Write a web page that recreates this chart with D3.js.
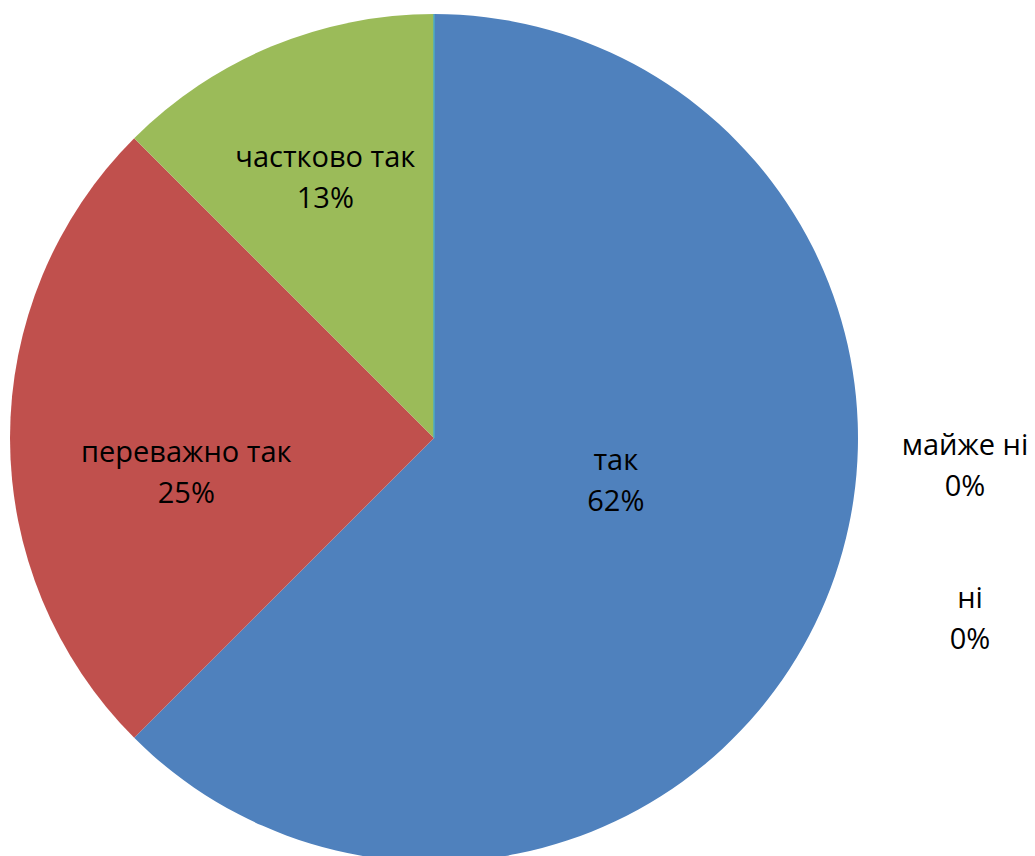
<!DOCTYPE html>
<html>
<head>
<meta charset="utf-8">
<script src="https://cdn.jsdelivr.net/npm/d3@7"></script>
<style>
  html, body { margin: 0; padding: 0; background: #fff; }
  svg { display: block; }
</style>
</head>
<body>
<svg id="chart" width="1035" height="856"></svg>
<script>
// ---- data ----
const categories = ["так", "переважно так", "частково так", "майже ні", "ні"];
const values = [62.5, 25, 12.5, 0, 0];
const percentLabels = ["62%", "25%", "13%", "0%", "0%"];
const colors = ["#4F81BD", "#C0504D", "#9BBB59", "#8064A2", "#4BACC6"];

// ---- layout ----
const W = 1035, H = 856;
const cx = 434, cy = 438, R = 424;
// label placement (polar: angle in degrees clockwise from top, radius as fraction of R)
const labelPolar = [
  { a: 103, r: 0.44 },
  { a: 262, r: 0.59 },
  { a: 337.4, r: 0.667 },
  { a: 93, r: 1.254 },
  { a: 108.6, r: 1.334 }
];
const fontSize = 29;
const lineGap = 41;

const svg = d3.select("#chart");
const g = svg.append("g").attr("transform", `translate(${cx},${cy})`);

const pie = d3.pie().sort(null).value(d => d.value).startAngle(0).endAngle(2 * Math.PI);
const data = categories.map((c, i) => ({ name: c, value: values[i], label: percentLabels[i], color: colors[i] }));
const arcs = pie(data);
const arc = d3.arc().innerRadius(0).outerRadius(R);

g.selectAll("path.slice")
  .data(arcs)
  .join("path")
  .attr("class", "slice")
  .attr("d", arc)
  .attr("fill", d => d.data.color);

// zero-width slices show as a thin edge line
g.selectAll("line.zero")
  .data(arcs.filter(d => d.data.value === 0).slice(-1))
  .join("line")
  .attr("class", "zero")
  .attr("x1", 0).attr("y1", 0)
  .attr("x2", d => R * Math.sin(d.startAngle))
  .attr("y2", d => -R * Math.cos(d.startAngle))
  .attr("stroke", d => d.data.color)
  .attr("stroke-width", 1.5);

const labels = g.selectAll("g.lbl")
  .data(arcs)
  .join("g")
  .attr("class", "lbl")
  .attr("transform", (d, i) => {
    const p = labelPolar[i];
    const a = p.a * Math.PI / 180;
    return `translate(${p.r * R * Math.sin(a)},${-p.r * R * Math.cos(a)})`;
  });

labels.append("text")
  .attr("text-anchor", "middle")
  .attr("font-family", "'Open Sans', sans-serif")
  .attr("font-size", fontSize)
  .attr("fill", "#000")
  .each(function(d) {
    const t = d3.select(this);
    t.append("tspan").attr("x", 0).attr("y", -lineGap / 2 + fontSize * 0.35).text(d.data.name);
    t.append("tspan").attr("x", 0).attr("y", lineGap / 2 + fontSize * 0.35).text(d.data.label);
  });
</script>
</body>
</html>
